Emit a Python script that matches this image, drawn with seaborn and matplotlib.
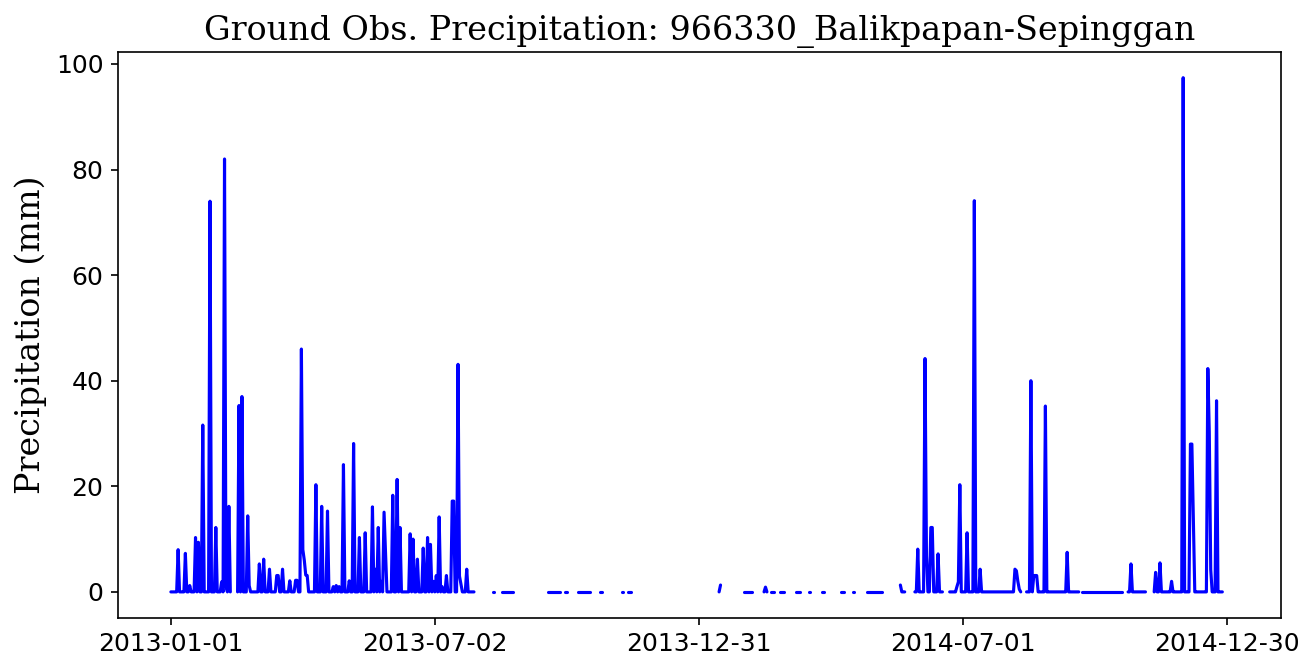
import numpy as np
import pandas as pd
import matplotlib
matplotlib.use("Agg")
import matplotlib.pyplot as plt
import seaborn as sns

# ---------------- data (days counted from 2013-01-01) ----------------
start_date = "2013-01-01"
end_date = "2014-12-31"
station = "966330_Balikpapan-Sepinggan"

# periods with observations (inclusive), dry days = 0 mm
obs_start = [0, 46, 222, 228, 260, 272, 281, 296, 311, 315, 378, 395, 409, 414, 420,
             431, 440, 449, 462, 470, 480, 503, 513, 537, 590, 628, 660, 678]
obs_end = [41, 209, 223, 236, 268, 273, 289, 297, 312, 317, 379, 401, 411, 416, 423,
           434, 441, 450, 464, 471, 490, 506, 532, 586, 626, 656, 672, 725]

# rainy days
rain_day = [5, 10, 13, 17, 19, 22, 27, 31, 35, 37, 38, 40,
            47, 49, 53, 54, 61, 64, 68, 73, 74, 77, 82, 86, 87,
            90, 91, 92, 93, 94, 100, 104, 108, 112, 114, 116, 119, 123, 126,
            130, 134, 139, 141, 143, 145, 147, 148, 153, 156, 158,
            165, 167, 170, 174, 177, 179, 181, 183, 185, 187, 190, 194, 195,
            198, 199, 200, 204,
            379, 410, 503,
            515, 520, 521, 524, 525, 529, 542, 543, 544, 549, 554, 558,
            582, 583, 584, 585, 593, 595, 596, 597, 603, 618,
            662, 679, 682, 690, 698, 703, 704, 705, 715, 716, 717, 721]
rain_mm = [8.0, 7.3, 1.2, 10.3, 9.4, 31.6, 74.0, 12.2, 1.9, 82.0, 1.0, 16.2,
           35.3, 37.0, 14.4, 1.2, 5.3, 6.2, 4.3, 3.1, 3.1, 4.3, 2.1, 2.2, 2.2,
           46.0, 8.0, 6.0, 3.2, 3.1, 20.3, 16.2, 15.3, 1.0, 1.2, 1.0, 24.1, 2.1, 28.1,
           10.3, 11.2, 16.1, 4.3, 12.2, 2.0, 15.1, 7.8, 18.3, 21.3, 12.2,
           11.0, 10.0, 6.2, 8.3, 10.3, 9.0, 2.0, 3.1, 14.2, 1.0, 3.1, 17.2, 17.2,
           43.1, 3.0, 1.5, 4.3,
           1.3, 0.9, 1.3,
           8.1, 44.2, 6.8, 12.2, 12.2, 7.2, 1.0, 1.9, 20.3, 11.2, 74.1, 4.3,
           4.3, 4.0, 2.0, 0.5, 40.0, 3.1, 3.1, 3.1, 35.2, 7.5,
           5.3, 3.7, 5.5, 2.0, 97.4, 28.0, 28.0, 14.0, 42.3, 30.3, 4.2, 36.2]

tick_labels = ["2013-01-01", "2013-07-02", "2013-12-31", "2014-07-01", "2014-12-30"]

# ---------------- build daily series ----------------
dates = pd.date_range(start_date, end_date, freq="D")
vals = np.full(len(dates), np.nan)
for s, e in zip(obs_start, obs_end):
    vals[s:e + 1] = 0.0
vals[np.array(rain_day)] = np.array(rain_mm)

df = pd.DataFrame({"date": dates, "mm": vals})
valid = df["mm"].notna()
df["seg"] = (valid & ~valid.shift(1, fill_value=False)).cumsum()
df = df[valid]

# ---------------- plot ----------------
sns.set_style("ticks")
plt.rcParams["font.family"] = ["DejaVu Sans"]
plt.rcParams["text.color"] = "black"
plt.rcParams["axes.labelcolor"] = "black"

W, H, DPI = 1312, 672, 150
fig = plt.figure(figsize=(W / DPI, H / DPI), dpi=DPI)
ax = fig.add_axes([118 / W, 1 - 617.6 / H, (1281 - 118) / W, (617.6 - 52) / H])

sns.lineplot(data=df, x="date", y="mm", units="seg", estimator=None,
             color="blue", linewidth=1.5, ax=ax)

t0 = pd.Timestamp(start_date)
t1 = pd.Timestamp(end_date)
pad = (t1 - t0) * 0.05
ax.set_xlim(t0 - pad, t1 + pad)
ax.set_xticks(pd.to_datetime(tick_labels))
ax.set_xticklabels(tick_labels)
ax.tick_params(labelsize=12, colors="black")
for sp in ax.spines.values():
    sp.set_color("black")
    sp.set_linewidth(0.8)

ax.set_xlabel("")
ax.set_ylabel("Precipitation (mm)", fontsize=16, family="DejaVu Serif", color="black")
ax.set_title("Ground Obs. Precipitation: " + station, fontsize=16,
             family="DejaVu Serif", color="black")

fig.savefig("out.png", dpi=DPI)
